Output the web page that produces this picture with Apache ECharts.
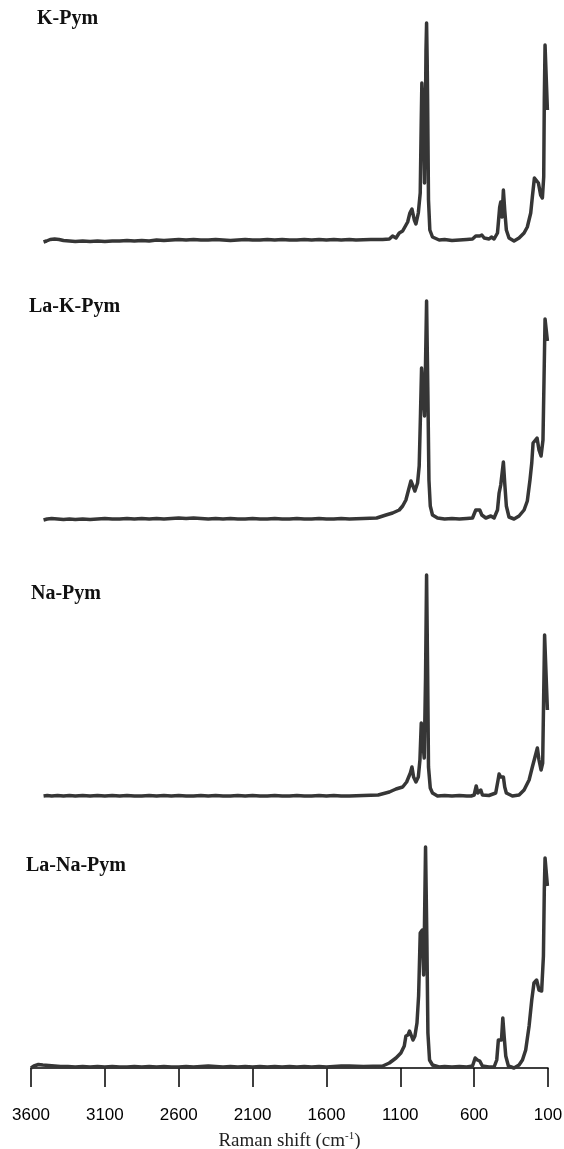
<!DOCTYPE html>
<html>
<head>
<meta charset="utf-8">
<script src="https://cdn.jsdelivr.net/npm/echarts@6/dist/echarts.min.js"></script>
<style>
  html, body { margin: 0; padding: 0; background: #fff; }
  #chart { width: 564px; height: 1149px; }
</style>
</head>
<body>
<div id="chart"></div>
<script>
// sample names, top to bottom
const names = ["K-Pym", "La-K-Pym", "Na-Pym", "La-Na-Pym"];

// Raman spectra: [shift (cm-1), intensity (a.u.)]
const kPym = [
  [3515, -2], [3495, -1], [3470, 0.5], [3440, 1], [3410, 0.5], [3380, -0.5], [3340, -1],
  [3300, -1.5], [3250, -1], [3200, -1.5], [3150, -1], [3100, -1.5], [3050, -1], [3000, -1],
  [2950, -0.5], [2900, -1], [2850, -0.5], [2800, -1], [2750, 0], [2700, -0.5], [2650, 0],
  [2600, 0.5], [2550, 0], [2500, 0.5], [2450, 0], [2400, 0], [2350, 0.5], [2300, 0],
  [2250, -0.5], [2200, 0], [2150, 0.5], [2100, 0], [2050, 0], [2000, 0.5], [1950, 0],
  [1900, 0.5], [1850, 0], [1800, 0], [1750, 0.5], [1700, 0], [1650, 0.5], [1600, 0],
  [1550, 0.5], [1500, 0], [1445, 0.5], [1400, 0], [1300, 0.5], [1219, 0.5], [1174, 1],
  [1152, 4], [1129, 2], [1107, 7], [1084, 9], [1073, 10], [1050, 18], [1035, 27], [1021, 31],
  [1005, 20], [994, 16], [978, 27], [965, 47], [958, 120], [954, 157], [947, 158], [942, 120],
  [936, 57], [931, 110], [926, 190], [922, 217], [918, 180], [915, 140], [909, 40], [900, 10],
  [882, 3], [837, 0], [800, 0.5], [750, -0.5], [700, 0], [650, 0.5], [611, 1], [589, 4],
  [578, 5], [562, 4], [548, 5], [532, 2], [499, 1], [483, 3], [465, 1], [442, 7], [427, 33],
  [420, 38], [411, 23], [402, 50], [393, 30], [382, 10], [364, 2], [330, -1], [296, 2],
  [262, 7], [240, 13], [217, 27], [206, 43], [192, 62], [179, 64], [165, 57], [150, 45],
  [138, 42], [129, 63], [125, 140], [120, 195], [111, 193], [104, 130]
];
const laKPym = [
  [3515, -1], [3490, 0], [3460, 0.5], [3420, 0], [3380, -0.5], [3340, 0], [3300, -0.5],
  [3250, 0], [3200, -0.5], [3150, 0], [3100, 0.5], [3050, 0], [3000, 0], [2950, 0.5],
  [2900, 0], [2850, 0.5], [2800, 0], [2750, 0.5], [2700, 0], [2650, 0.5], [2600, 1],
  [2550, 0.5], [2500, 1], [2450, 0.5], [2400, 0], [2350, 0.5], [2300, 0], [2250, 0.5],
  [2200, 0], [2150, 0], [2100, 0.5], [2050, 0], [2000, 0], [1950, 0.5], [1900, 0],
  [1850, 0], [1800, 0.5], [1750, 0], [1700, 0], [1650, 0.5], [1600, 0], [1550, 0],
  [1500, 0.5], [1445, 0], [1350, 0.5], [1260, 1], [1197, 4], [1152, 6], [1107, 9],
  [1084, 13], [1062, 19], [1046, 28], [1028, 38], [1017, 34], [1001, 28], [983, 36],
  [972, 53], [963, 106], [956, 151], [945, 149], [936, 103], [929, 156], [922, 218],
  [913, 123], [906, 39], [897, 13], [882, 4], [848, 1], [800, 0], [750, 0.5], [700, 0],
  [650, 0.5], [611, 1], [589, 9], [578, 8], [562, 9], [548, 4], [521, 1], [487, 3],
  [465, 1], [442, 9], [431, 26], [420, 34], [411, 36], [402, 57], [393, 36], [382, 13],
  [364, 2], [330, 0], [296, 3], [262, 9], [240, 18], [222, 39], [210, 56], [201, 76],
  [188, 78], [174, 81], [161, 69], [147, 63], [134, 79], [127, 139], [120, 200], [111, 199],
  [104, 178]
];
const naPym = [
  [3515, 0], [3490, 0.5], [3460, 0], [3420, 0.5], [3380, 0], [3340, 0.5], [3300, 0],
  [3250, 0.5], [3200, 0], [3150, 0.5], [3100, 0], [3050, 0.5], [3000, 0], [2950, 0.5],
  [2900, 0], [2850, 0], [2800, 0.5], [2750, 0], [2700, 0.5], [2650, 0], [2600, 0.5],
  [2550, 0], [2500, 0], [2450, 0.5], [2400, 0], [2350, 0.5], [2300, 0], [2250, 0],
  [2200, 0.5], [2150, 0], [2100, 0.5], [2050, 0], [2000, 0], [1950, 0.5], [1900, 0],
  [1850, 0], [1800, 0.5], [1750, 0], [1700, 0], [1650, 0.5], [1600, 0], [1550, 0.5],
  [1500, 0], [1445, 0], [1350, 0.5], [1250, 1], [1174, 4], [1129, 7], [1084, 9], [1057, 14],
  [1044, 16], [1032, 23], [1021, 29], [1010, 19], [994, 14], [978, 19], [967, 36], [958, 73],
  [949, 74], [938, 38], [929, 119], [922, 221], [915, 126], [909, 29], [897, 8], [882, 3],
  [848, 0], [800, 0.5], [750, 0], [700, 0.5], [650, 0], [620, 0], [600, 1], [586, 10],
  [575, 3], [555, 6], [544, 1], [500, 0.5], [454, 3], [438, 16], [431, 22], [420, 19],
  [411, 20], [402, 19], [393, 9], [382, 3], [341, 0], [296, 1], [262, 6], [228, 16],
  [206, 29], [188, 39], [172, 48], [161, 36], [147, 26], [136, 33], [129, 103], [123, 161],
  [113, 159], [104, 86]
];
const laNaPym = [
  [3600, 0], [3580, 2], [3550, 3.5], [3520, 3], [3480, 2.5], [3440, 2], [3400, 1.5],
  [3350, 1.5], [3300, 1], [3250, 1.5], [3200, 1], [3150, 1.5], [3100, 1], [3050, 1.5],
  [3000, 1], [2950, 1], [2900, 1.5], [2850, 1], [2800, 1.5], [2750, 1], [2700, 1.5],
  [2650, 1], [2600, 1], [2550, 1.5], [2500, 1], [2450, 1.5], [2400, 2], [2350, 1.5],
  [2300, 1], [2250, 1.5], [2200, 1], [2150, 1.5], [2100, 1], [2050, 1.5], [2000, 1],
  [1950, 1.5], [1900, 1], [1850, 1.5], [1800, 1], [1750, 1.5], [1700, 1], [1650, 1.5],
  [1600, 1], [1550, 1.5], [1500, 2], [1445, 2], [1350, 1.5], [1219, 2], [1174, 5],
  [1129, 10], [1096, 15], [1073, 22], [1062, 32], [1048, 33], [1037, 37], [1026, 38],
  [1014, 28], [1001, 32], [987, 45], [976, 72], [965, 135], [951, 138], [942, 93],
  [936, 145], [929, 221], [920, 128], [913, 35], [902, 8], [882, 3], [837, 1], [800, 1.5],
  [750, 1], [700, 1.5], [650, 1], [611, 2], [593, 10], [578, 8], [562, 7], [544, 2],
  [500, 1], [465, 1], [447, 8], [436, 28], [424, 30], [415, 28], [406, 50], [397, 32],
  [386, 12], [368, 2], [330, 0], [296, 3], [273, 8], [251, 18], [228, 42], [210, 68],
  [195, 85], [177, 88], [161, 78], [143, 77], [131, 112], [125, 178], [120, 210],
  [111, 208], [104, 182]
];
const spectra = [kPym, laKPym, naPym, laNaPym];

// x axis (reversed): 3600 ... 100, step 500
const xMin = 100;
const xMax = 3600;
const xStep = 500;

const chart = echarts.init(document.getElementById("chart"));

// baseline pixel row for each panel
const baselines = [240, 519, 796, 1068];
const labelPos = [[37, 19], [29, 307], [31, 594], [26, 866]];
const yMin = -11;
const yMax = 230;

const grids = baselines.map((b) => ({
  left: 31,
  right: 16,
  top: b - yMax,
  height: yMax - yMin,
  outerBoundsMode: "none",
}));

const xAxes = baselines.map((b, i) => {
  const last = i === baselines.length - 1;
  return {
    type: "value",
    gridIndex: i,
    min: xMin,
    max: xMax,
    interval: xStep,
    inverse: true,
    show: last,
    axisLine: { show: last, lineStyle: { color: "#000", width: 1.5 } },
    axisTick: { show: last, length: 19, inside: false, lineStyle: { color: "#000", width: 1.5 } },
    splitLine: { show: false },
    axisLabel: {
      show: last,
      margin: 28,
      color: "#000",
      fontSize: 17,
      fontFamily: "Liberation Sans",
      formatter: (v) => String(v),
    },
    name: last ? "{a|Raman shift (cm}{s|-1}{a|)}" : "",
    nameLocation: "middle",
    nameGap: 52,
    nameTextStyle: {
      rich: {
        a: { fontFamily: "Liberation Serif", fontSize: 19, color: "#222", lineHeight: 20 },
        s: { fontFamily: "Liberation Serif", fontSize: 11, color: "#222", lineHeight: 20, verticalAlign: "top" },
      },
    },
  };
});

const yAxes = baselines.map((b, i) => ({
  type: "value",
  gridIndex: i,
  min: yMin,
  max: yMax,
  show: false,
  splitLine: { show: false },
}));

const series = spectra.map((d, i) => ({
  type: "line",
  xAxisIndex: i,
  yAxisIndex: i,
  data: d,
  showSymbol: false,
  clip: false,
  lineStyle: { color: "#363636", width: 3.5, join: "round" },
}));

const labels = names.map((n, i) => ({
  type: "text",
  x: labelPos[i][0],
  y: labelPos[i][1],
  style: {
    text: n,
    fontFamily: "Liberation Serif",
    fontWeight: "bold",
    fontSize: 20,
    fill: "#111",
    verticalAlign: "middle",
  },
}));

chart.setOption({
  animation: false,
  backgroundColor: "#fff",
  grid: grids,
  xAxis: xAxes,
  yAxis: yAxes,
  series: series,
  graphic: labels,
});
</script>
</body>
</html>
